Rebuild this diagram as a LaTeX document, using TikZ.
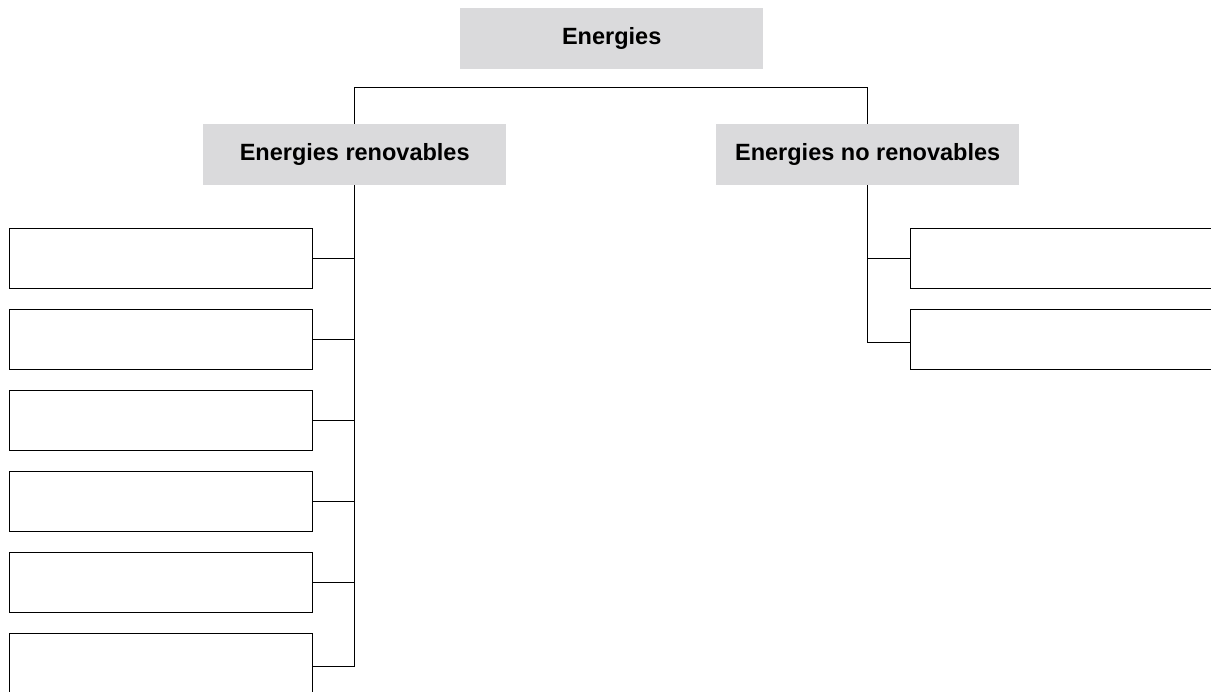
\documentclass[tikz,border=0pt]{standalone}
\usepackage{fontspec}
\setmainfont{Liberation Sans}
\definecolor{boxgray}{RGB}{218,218,220}
\begin{document}
\begin{tikzpicture}[x=1pt,y=-1pt,
  headbox/.style={fill=boxgray,draw=none,minimum width=303pt,minimum height=61pt,inner sep=0pt,anchor=north west,font=\fontsize{23.5}{28}\selectfont\bfseries},
  emptybox/.style={draw=black,line width=1pt,minimum width=303pt,minimum height=60pt,inner sep=0pt,anchor=north west},
  link/.style={draw=black,line width=1pt}]
\useasboundingbox (0,0) rectangle (1211,692);
\clip (0,0) rectangle (1211,692);
\node[headbox] (top) at (460,8) {Energies};
\node[headbox] (L) at (203,124) {Energies renovables};
\node[headbox] (R) at (716,124) {Energies no renovables};
\coordinate (hbar) at (611,88);
\foreach \i/\y in {1/228,2/309,3/390,4/471,5/552,6/633} {
  \node[emptybox] (b\i) at (9,\y) {};
}
\node[emptybox] (r1) at (910,228) {};
\node[emptybox] (r2) at (910,309) {};
\coordinate (c6) at ([yshift=-3pt]b6.east);
\coordinate (d2) at ([yshift=-3pt]r2.west);
\draw[link] (L.north) -- (L.north |- hbar) -- (R.north |- hbar) -- (R.north);
\draw[link] (L.south) -- (L.south |- c6) -- (c6);
\foreach \i in {1,...,5} {
  \draw[link] (b\i.east) -- (b\i.east -| L.south);
}
\draw[link] (R.south) -- (R.south |- d2) -- (d2);
\draw[link] (r1.west) -- (r1.west -| R.south);
\end{tikzpicture}
\end{document}
